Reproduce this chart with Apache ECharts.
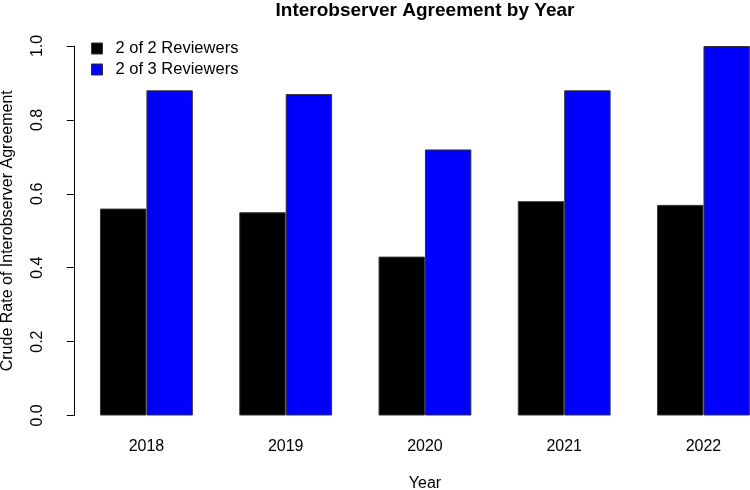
<!DOCTYPE html>
<html>
<head>
<meta charset="utf-8">
<script src="https://cdn.jsdelivr.net/npm/echarts@6/dist/echarts.min.js"></script>
<style>html,body{margin:0;padding:0;background:#fff;}#c{width:750px;height:490px;}</style>
</head>
<body>
<div id="c"></div>
<script>
var years = ['2018', '2019', '2020', '2021', '2022'];
var twoOfTwo = [0.56, 0.55, 0.43, 0.58, 0.57];
var twoOfThree = [0.88, 0.87, 0.72, 0.88, 1.00];
var yTicks = [0, 0.2, 0.4, 0.6, 0.8, 1.0];

var font = 'Liberation Sans, Arial, sans-serif';
var chart = echarts.init(document.getElementById('c'));
chart.setOption({
  animation: false,
  backgroundColor: '#fff',
  title: {
    text: 'Interobserver Agreement by Year',
    left: 425, textAlign: 'center', top: 1, padding: 0,
    textStyle: { fontFamily: font, fontSize: 19, fontWeight: 'bold', color: '#000' }
  },
  legend: {
    orient: 'vertical', left: 91, top: 40, padding: 0,
    itemWidth: 11, itemHeight: 11, itemGap: 4,
    icon: 'rect',
    itemStyle: { borderColor: '#333', borderWidth: 1 },
    textStyle: { fontFamily: font, fontSize: 16.5, color: '#000', padding: [0, 0, 0, 8] },
    data: ['2 of 2 Reviewers', '2 of 3 Reviewers']
  },
  grid: { left: 76.8, top: 46, width: 696.3, bottom: 74.5, containLabel: false, outerBoundsMode: 'none' },
  xAxis: {
    type: 'category', data: years,
    name: 'Year', nameLocation: 'middle', nameGap: 60,
    nameTextStyle: { fontFamily: font, fontSize: 16, color: '#000' },
    axisLine: { show: false }, axisTick: { show: false },
    axisLabel: { fontFamily: font, fontSize: 16, color: '#000', margin: 23.5 }
  },
  yAxis: {
    type: 'value', min: 0, max: 1, interval: 0.2, offset: 3,
    name: 'Crude Rate of Interobserver Agreement', nameLocation: 'middle', nameGap: 58,
    nameTextStyle: { fontFamily: font, fontSize: 16, color: '#000' },
    splitLine: { show: false },
    axisLine: { show: true, lineStyle: { color: '#000', width: 1 } },
    axisTick: { show: true, length: 7, lineStyle: { color: '#000' } },
    axisLabel: {
      rotate: 90, margin: 28, fontFamily: font, fontSize: 16, color: '#000',
      formatter: function (v) { return v.toFixed(1); }
    }
  },
  series: [
    { name: '2 of 2 Reviewers', type: 'bar', data: twoOfTwo, barWidth: 46.4, barGap: '0%',
      itemStyle: { color: '#000000', borderColor: '#333', borderWidth: 1 } },
    { name: '2 of 3 Reviewers', type: 'bar', data: twoOfThree, barWidth: 46.4, barGap: '0%',
      itemStyle: { color: '#0000FF', borderColor: '#333', borderWidth: 1 } }
  ]
});
</script>
</body>
</html>
